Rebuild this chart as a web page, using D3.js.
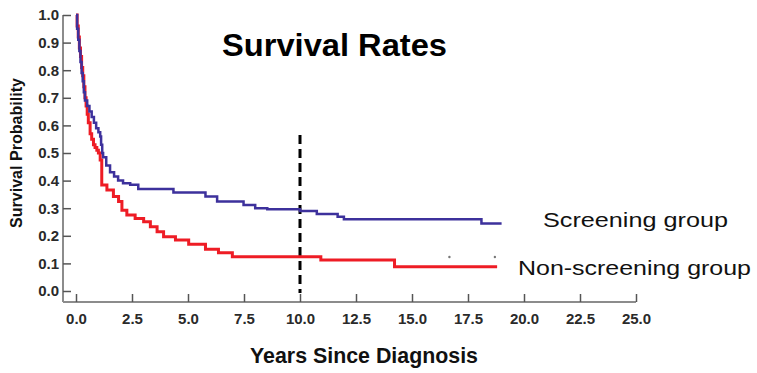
<!DOCTYPE html>
<html>
<head>
<meta charset="utf-8">
<script src="https://cdn.jsdelivr.net/npm/d3@7"></script>
<style>
  body { margin: 0; background: #fff; }
  text { font-family: "Liberation Sans", Arial, sans-serif; }
</style>
</head>
<body>
<div id="chart"></div>
<script>
var width = 757;
var height = 373;

// Kaplan-Meier step points
var screenTime = [0, 0.05, 0.1, 0.15, 0.2, 0.25, 0.3, 0.35, 0.4, 0.5, 0.6, 0.7, 0.8, 0.9, 1.0, 1.08, 1.12, 1.17, 1.21, 1.35, 1.52, 1.7, 1.88, 2.1, 2.42, 2.78, 4.35, 5.78, 6.3, 7.48, 8.0, 8.54, 10.0, 10.75, 11.68, 11.96, 18.1, 19.0];
var screenSurv = [1.0, 0.95, 0.91, 0.87, 0.83, 0.79, 0.76, 0.72, 0.69, 0.67, 0.65, 0.63, 0.61, 0.59, 0.575, 0.56, 0.53, 0.50, 0.485, 0.455, 0.43, 0.415, 0.40, 0.39, 0.385, 0.37, 0.357, 0.342, 0.324, 0.312, 0.30, 0.296, 0.29, 0.279, 0.269, 0.26, 0.245, 0.245];

var nonTime = [0, 0.05, 0.1, 0.15, 0.2, 0.25, 0.3, 0.35, 0.4, 0.45, 0.5, 0.55, 0.63, 0.7, 0.78, 0.85, 0.93, 1.0, 1.08, 1.15, 1.38, 1.67, 1.9, 2.05, 2.27, 2.64, 3.02, 3.32, 3.62, 3.91, 4.44, 5.03, 5.78, 6.36, 6.98, 10.93, 14.22, 18.8];
var nonSurv = [1.0, 0.96, 0.92, 0.88, 0.85, 0.81, 0.78, 0.74, 0.70, 0.67, 0.64, 0.61, 0.57, 0.55, 0.53, 0.52, 0.51, 0.50, 0.475, 0.384, 0.366, 0.342, 0.324, 0.293, 0.275, 0.263, 0.251, 0.233, 0.215, 0.197, 0.185, 0.169, 0.151, 0.139, 0.124, 0.112, 0.088, 0.088];

var censorTime = [16.67, 18.7];
var censorSurv = [0.123, 0.123];

var xTicks = [0, 2.5, 5, 7.5, 10, 12.5, 15, 17.5, 20, 22.5, 25];
var yTicks = [0, 0.1, 0.2, 0.3, 0.4, 0.5, 0.6, 0.7, 0.8, 0.9, 1.0];

var cutoffYear = 10;

var svg = d3.select('#chart')
  .append('svg')
  .attr('width', width)
  .attr('height', height);

var x = d3.scaleLinear().domain([0, 25]).range([76, 636]);
var y = d3.scaleLinear().domain([0, 1]).range([291, 15]);

var axisLeftX = 63;
var axisBottomY = 302;

// axis lines (the two axes meet below the 0.0 tick)
svg.append('line')
  .attr('x1', axisLeftX).attr('x2', axisLeftX)
  .attr('y1', y(1)).attr('y2', axisBottomY)
  .attr('stroke', '#8c8c8c').attr('stroke-width', 2);
svg.append('line')
  .attr('x1', axisLeftX).attr('x2', x(25))
  .attr('y1', axisBottomY).attr('y2', axisBottomY)
  .attr('stroke', '#8c8c8c').attr('stroke-width', 2);

var yAxis = svg.append('g')
  .attr('transform', 'translate(' + axisLeftX + ',0)')
  .call(d3.axisLeft(y).tickValues(yTicks).tickSize(-8).tickPadding(4).tickFormat(d3.format('.1f')));

var xAxis = svg.append('g')
  .attr('transform', 'translate(0,' + axisBottomY + ')')
  .call(d3.axisBottom(x).tickValues(xTicks).tickSize(-8).tickPadding(11).tickFormat(d3.format('.1f')));

[yAxis, xAxis].forEach(function(g) {
  g.select('.domain').remove();
  g.selectAll('.tick line').attr('stroke', '#555').attr('stroke-width', 1.5);
  g.selectAll('.tick text')
    .attr('fill', '#2a2a2a')
    .style('font-weight', 'bold')
    .style('font-size', '15px')
    .style('font-family', '"Liberation Sans", Arial, sans-serif');
});

// cutoff at 10 years
svg.append('line')
  .attr('x1', x(cutoffYear)).attr('x2', x(cutoffYear))
  .attr('y1', y(0.565)).attr('y2', y(-0.007))
  .attr('stroke', '#000')
  .attr('stroke-width', 3)
  .attr('stroke-dasharray', '9,5');

var line = d3.line()
  .x(function(d) { return x(d[0]); })
  .y(function(d) { return y(d[1]); })
  .curve(d3.curveStepAfter);

svg.append('path')
  .datum(d3.zip(nonTime, nonSurv))
  .attr('d', line)
  .attr('fill', 'none')
  .attr('stroke', '#ee1c25')
  .attr('stroke-width', 3);

svg.append('path')
  .datum(d3.zip(screenTime, screenSurv))
  .attr('d', line)
  .attr('fill', 'none')
  .attr('stroke', '#3d319c')
  .attr('stroke-width', 2.5);

svg.selectAll('circle.censor')
  .data(d3.zip(censorTime, censorSurv))
  .enter()
  .append('circle')
  .attr('class', 'censor')
  .attr('cx', function(d) { return x(d[0]); })
  .attr('cy', function(d) { return y(d[1]); })
  .attr('r', 1.2)
  .attr('fill', '#777');

// texts
svg.append('text')
  .attr('x', 222).attr('y', 56)
  .attr('textLength', 225).attr('lengthAdjust', 'spacingAndGlyphs')
  .style('font-size', '31px').style('font-weight', 'bold')
  .attr('fill', '#000')
  .text('Survival Rates');

svg.append('text')
  .attr('x', 250).attr('y', 363)
  .attr('textLength', 228).attr('lengthAdjust', 'spacingAndGlyphs')
  .style('font-size', '22px').style('font-weight', 'bold')
  .attr('fill', '#111')
  .text('Years Since Diagnosis');

svg.append('text')
  .attr('transform', 'translate(22,228) rotate(-90)')
  .attr('textLength', 150).attr('lengthAdjust', 'spacingAndGlyphs')
  .style('font-size', '16px').style('font-weight', 'bold')
  .attr('fill', '#111')
  .text('Survival Probability');

svg.append('text')
  .attr('x', 543).attr('y', 227)
  .attr('textLength', 185).attr('lengthAdjust', 'spacingAndGlyphs')
  .style('font-size', '21px')
  .attr('fill', '#111')
  .text('Screening group');

svg.append('text')
  .attr('x', 518).attr('y', 275)
  .attr('textLength', 233).attr('lengthAdjust', 'spacingAndGlyphs')
  .style('font-size', '21px')
  .attr('fill', '#111')
  .text('Non-screening group');
</script>
</body>
</html>
